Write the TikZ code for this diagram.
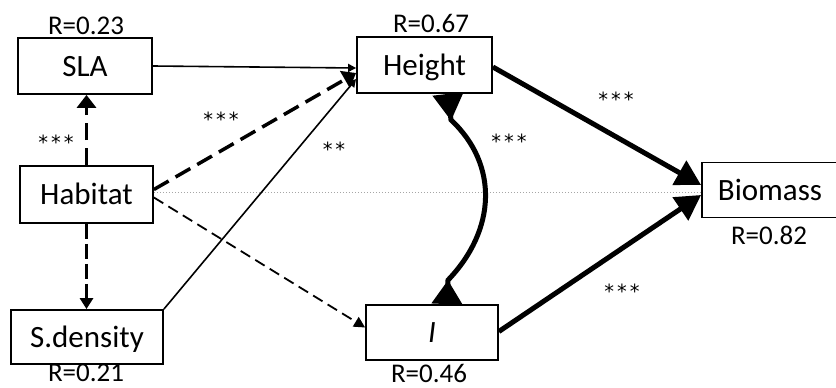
\documentclass[tikz,border=0pt]{standalone}
\usepackage{fontspec}
\setmainfont{Carlito}
\newfontfamily\starfont{DejaVu Sans}
\newcommand{\sigthree}{*\kern3pt*\kern3pt*}
\newcommand{\sigtwo}{*\kern3pt*}
\usetikzlibrary{arrows.meta}
\begin{document}
\begin{tikzpicture}[x=1pt,y=-1pt,
  box/.style={draw, line width=1.8pt, inner sep=0pt, minimum height=56pt,
    text height=20pt, text depth=0pt, font=\fontsize{31}{36}\selectfont},
  rlab/.style={inner sep=0pt, font=\fontsize{27}{30}\selectfont},
  sig/.style={inner sep=0pt, font=\starfont\fontsize{19.5}{24}\selectfont},
  solidthin/.style={line width=1.6pt, -{Triangle[length=8pt,width=8pt]}},
  dashbig/.style={line width=3.5pt, dash pattern=on 17pt off 8pt, -{Triangle[length=13pt,width=19pt]}},
  dashmid/.style={line width=2.8pt, dash pattern=on 15pt off 5pt, -{Triangle[length=11pt,width=13pt]}},
  dashsmall/.style={line width=1.8pt, dash pattern=on 11pt off 6pt, -{Triangle[length=11pt,width=11pt]}},
  heavy/.style={line width=5pt, -{Triangle[length=25pt,width=27pt]}},
  dotline/.style={gray!70, line width=0.9pt, dash pattern=on 1.5pt off 1.5pt}
]
\useasboundingbox (0,0) rectangle (836,388);

% boxes
\node[box, minimum width=134pt] (sla) at (85,66) {SLA};
\node[box, minimum width=135pt] (height) at (424.5,65) {Height};
\node[box, minimum width=133pt, minimum height=57pt] (hab) at (86.5,194.5) {Habitat};
\node[box, minimum width=152pt, minimum height=54pt] (sd) at (87,337) {S.density};
\node[box, minimum width=132pt, minimum height=55pt] (ii) at (432,332.5) {\itshape I};
\node[box, minimum width=136pt, minimum height=55pt] (bio) at (770,190) {Biomass};

% R labels
\node[rlab] (r1) at (86,25.5) {R=0.23};
\node[rlab] (r2) at (431,23) {R=0.67};
\node[rlab] (r3) at (86,373) {R=0.21};
\node[rlab] (r4) at (429,373) {R=0.46};
\node[rlab] (r5) at (769,235) {R=0.82};

% connectors
\draw[dotline] ([yshift=2pt]hab.east) -- ([yshift=2pt]hab.east -| bio.west);
\draw[solidthin] (sla.east) -- ([yshift=-2pt]sla.east -| height.west);
\draw[dashbig] ([yshift=5pt]hab.east) -- ([yshift=-8pt]height.west);
\draw[solidthin] (sd.north east) -- ([yshift=-14pt]height.west);
\draw[dashbig] (hab.north) -- (hab.north |- sla.south);
\draw[dashmid] (hab.south) -- (hab.south |- sd.north);
\draw[dashsmall] ([yshift=-3pt]hab.east) -- ([yshift=5pt]ii.west);
\draw[heavy] ([yshift=-2pt]height.east) -- ([yshift=5pt]bio.west);
\draw[heavy] ([yshift=1pt]ii.east) -- ([yshift=-5pt]bio.west);

% curved double arrow
\coordinate (ca) at ([xshift=23.5pt]height.south);
\coordinate (cb) at ([xshift=15pt]ii.north);
\draw[line width=5pt, {Triangle[reversed,length=27pt,width=30pt]}-{Triangle[reversed,length=24pt,width=30pt]}]
  (ca) -- ++(3,26) .. controls +(48,45) and +(48,-50) .. ([shift={(1,-24)}]cb) -- (cb);

% significance labels
\node[sig] (s1) at (56,142) {\sigthree};
\node[sig] (s2) at (221,119) {\sigthree};
\node[sig] (s3) at (334,149) {\sigtwo};
\node[sig] (s4) at (616,99) {\sigthree};
\node[sig] (s5) at (509,141) {\sigthree};
\node[sig] (s6) at (622,291) {\sigthree};
\end{tikzpicture}
\end{document}
